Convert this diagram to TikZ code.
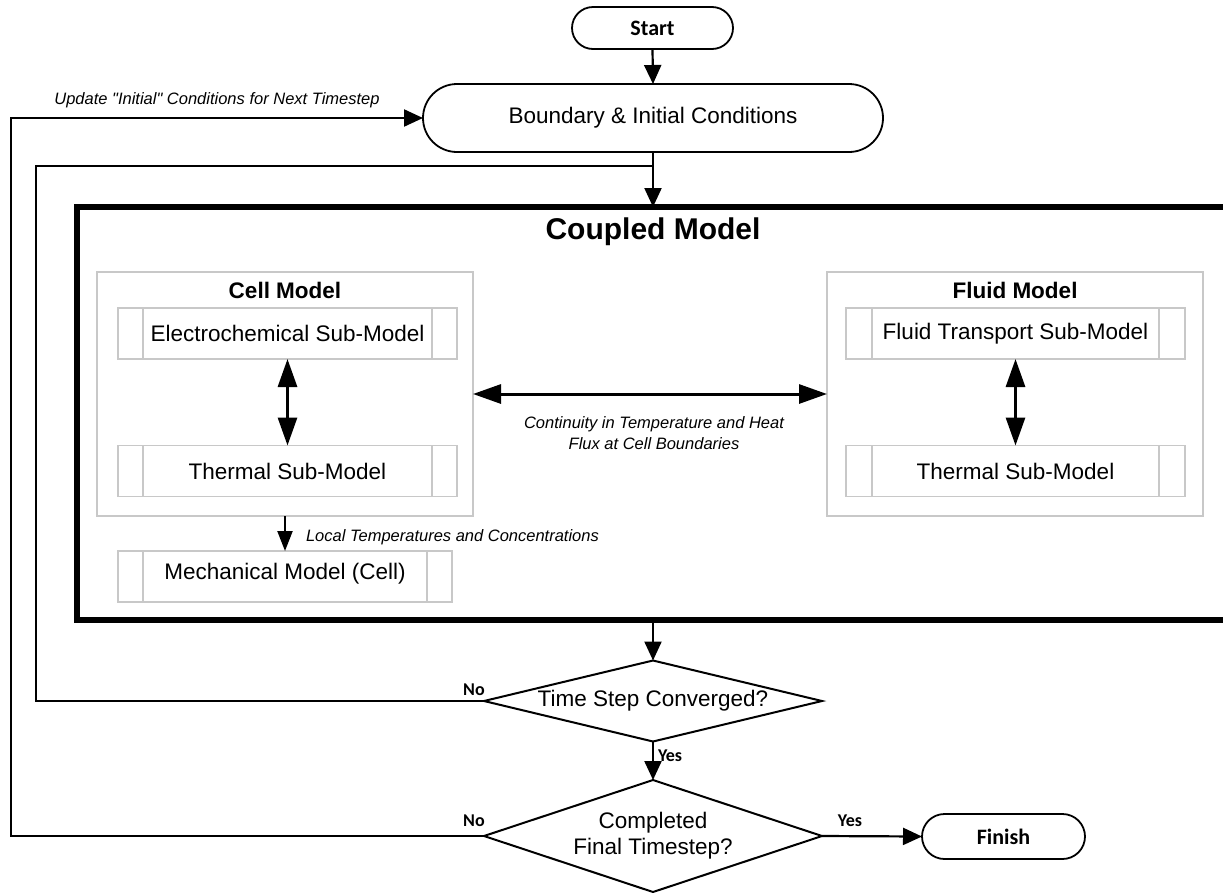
\documentclass[tikz,border=0pt]{standalone}
\usepackage{fontspec}
\setmainfont{Liberation Sans}
\newfontfamily\calib{Carlito}
\usetikzlibrary{arrows.meta,shapes.geometric,shapes.misc}
\definecolor{boxgray}{HTML}{C8C8C8}
\newcommand{\sq}{\XeTeXglyph\XeTeXcharglyph"22\relax}
\tikzset{
  every node/.style={font=\fontsize{22.5}{26}\selectfont, inner sep=0pt, outer sep=0pt},
  line/.style={line width=2.2pt, draw=black},
  arr/.style={line, -{Triangle[length=19pt,width=17pt]}},
  darr/.style={line width=3pt, {Triangle[length=28pt,width=19pt]}-{Triangle[length=28pt,width=19pt]}},
  term/.style={rounded rectangle, draw, line width=1.8pt, fill=white},
  decis/.style={diamond, draw, line width=2pt, minimum width=338pt, align=center},
  container/.style={rectangle, draw=boxgray, line width=1.3pt, minimum width=376pt, minimum height=244pt},
  subbox/.style={rectangle, draw=boxgray, line width=1.5pt, minimum height=51pt},
  ital/.style={font=\fontsize{16.5}{21}\selectfont\itshape, align=center},
  yn/.style={font=\calib\bfseries\fontsize{18}{20}\selectfont},
  titl/.style={font=\bfseries\fontsize{22.5}{26}\selectfont},
}
\begin{document}
\begin{tikzpicture}[x=1pt,y=-1pt]
\useasboundingbox (0,0) rectangle (1223,892);
% terminals
\node[term, minimum width=161pt, minimum height=42pt, font=\calib\bfseries\fontsize{22}{24}\selectfont] (start) at (652.5,28) {Start};
\node[term, minimum width=460pt, minimum height=68pt] (bd) at (653,118) {Boundary \& Initial Conditions};
% coupled model
\node[rectangle, draw, line width=6pt, minimum width=1170pt, minimum height=413pt] (cm) at (662,413.5) {};
\node[font=\bfseries\fontsize{30}{34}\selectfont] (cmt) at (653,232) {Coupled Model};
% cell model
\node[container] (cell) at (285,394) {};
\node[titl] (cellt) at (285,290) {Cell Model};
\node[subbox, minimum width=339pt] (ec) at (287.5,333.5) {Electrochemical Sub-Model};
\node[subbox, minimum width=339pt] (cth) at (287.5,471) {Thermal Sub-Model};
\node[subbox, minimum width=334pt] (mech) at (285,576.5) {\raisebox{11pt}{Mechanical Model (Cell)}};
% fluid model
\node[container] (fl) at (1015,394) {};
\node[titl] (flt) at (1015,290) {Fluid Model};
\node[subbox, minimum width=339pt] (ft) at (1015.5,333.5) {Fluid Transport Sub-Model};
\node[subbox, minimum width=339pt] (fth) at (1015.5,471) {Thermal Sub-Model};
% inner vertical lines of sub-process boxes
\foreach \b/\d in {ec/25, cth/25, mech/25, ft/26, fth/26}{
  \draw[boxgray, line width=1.5pt] ([xshift=\d pt]\b.north west) -- ([xshift=\d pt]\b.south west);
  \draw[boxgray, line width=1.5pt] ([xshift=-\d pt]\b.north east) -- ([xshift=-\d pt]\b.south east);
}
% decisions
\node[decis, minimum height=81pt, aspect=4.17] (d1) at (653,701) {Time Step Converged?};
\node[decis, minimum height=112pt, aspect=3.02] (d2) at (653,836) {Completed\\Final Timestep?};
\node[term, minimum width=163pt, minimum height=45pt, font=\calib\bfseries\fontsize{22}{24}\selectfont] (fin) at (1003.5,836.5) {Finish};
% helper coordinates
\coordinate (j) at (653,166);
\coordinate (c2) at (36,166);
\coordinate (c1) at (11,118);
% connectors
\draw[arr] (start.south) -- (bd.north);
\draw[arr] (bd.south) -- (bd.south |- cm.north);
\draw[arr] (cm.south -| d1.north) -- (d1.north);
\draw[arr] (d1.south) -- (d2.north);
\draw[arr] (d2.east) -- (fin.west);
\draw[line] (d1.west) -| (c2) -- (j);
\draw[arr] (d2.west) -| (c1) -- (bd.west);
\draw[darr] (ec.south) -- (cth.north);
\draw[darr] (ft.south) -- (fth.north);
\draw[darr] (cell.east) -- (fl.west);
\draw[line width=2.2pt, -{Triangle[length=20pt,width=15pt]}] (cell.south) -- (mech.north);
% labels
\node[ital] (lupd) at (217,100) {Update \sq Initial\sq{} Conditions for Next Timestep};
\node[ital, anchor=west] (lloc) at (306,537) {Local Temperatures and Concentrations};
\node[ital] (lcont) at (654,433.5) {Continuity in Temperature and Heat\\Flux at Cell Boundaries};
\node[yn] (no1) at (474,690) {No};
\node[yn] (no2) at (474,821) {No};
\node[yn, anchor=west] (yes1) at (658,756) {Yes};
\node[yn] (yes2) at (850,821) {Yes};
\end{tikzpicture}
\end{document}
